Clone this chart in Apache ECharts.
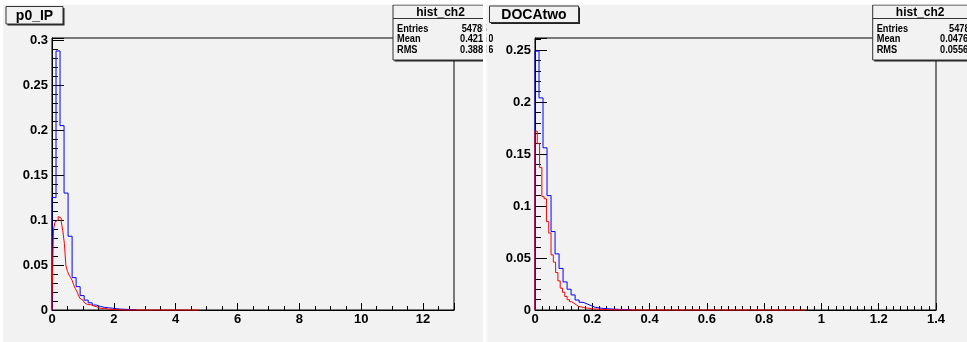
<!DOCTYPE html>
<html><head><meta charset="utf-8">
<script src="https://cdn.jsdelivr.net/npm/echarts@6/dist/echarts.min.js"></script>
<style>html,body{margin:0;padding:0;background:#fff}#c{width:967px;height:342px}</style>
</head><body><div id="c"></div>
<script>
// ---------- data ----------
const ipTitle = 'p0_IP';
const docaTitle = 'DOCAtwo';
const statTitle = 'hist_ch2';
const ipStats = [['Entries', '54785'], ['Mean', '0.42150'], ['RMS', '0.38806']];
const docaStats = [['Entries', '54785'], ['Mean', '0.04768'], ['RMS', '0.05567']];

// p0_IP histograms (bin start, bin width, contents)
const ipBlueStart = 0, ipBlueWidth = 0.13;
const ipBlue = [0.125, 0.288, 0.205, 0.130, 0.082, 0.036, 0.026, 0.016, 0.011, 0.008,
  0.0055, 0.004, 0.003, 0.0025, 0.002, 0.0015, 0.001, 0.0008, 0.0006, 0.0004, 0.0003];
const ipRedStart = 0, ipRedWidth = 0.05;
const ipRed = [0.013, 0.090, 0.098, 0.100, 0.104, 0.102, 0.098, 0.088, 0.074, 0.049,
  0.043, 0.039, 0.036, 0.033, 0.028, 0.024, 0.021, 0.017, 0.013, 0.011,
  0.009, 0.008, 0.006, 0.0055, 0.006, 0.004, 0.0045, 0.003, 0.0035, 0.0025,
  0.002, 0.0025, 0.0015, 0.0012, 0.0015, 0.001, 0.0008, 0.0006, 0.0008, 0.0005,
  0.0004, 0.0003, 0.0003, 0.0002, 0.0002, 0.0001, 0.0001, 0.0001, 0, 0.0001,
  0, 0, 0.0001, 0, 0, 0, 0, 0, 0, 0,
  0, 0, 0, 0, 0, 0, 0, 0, 0, 0,
  0, 0, 0, 0, 0, 0, 0, 0, 0, 0,
  0, 0, 0, 0, 0, 0, 0, 0, 0, 0,
  0, 0, 0, 0, 0];

// DOCAtwo histograms
const docaBlueStart = 0, docaBlueWidth = 0.014;
const docaBlue = [0.249, 0.204, 0.156, 0.110, 0.0755, 0.054, 0.040, 0.027, 0.020, 0.0145,
  0.0096, 0.0074, 0.0058, 0.0042, 0.0026, 0.002, 0.0015, 0.0012, 0.001, 0.0008,
  0.0006, 0.0005, 0.0004, 0.0003];
const docaRedStart = 0, docaRedWidth = 0.008;
const docaRed = [0.172, 0.160, 0.137, 0.109, 0.107, 0.085, 0.074, 0.053, 0.046, 0.036,
  0.028, 0.021, 0.017, 0.013, 0.010, 0.008, 0.0065, 0.005, 0.0035, 0.003,
  0.0025, 0.002, 0.0018, 0.0015, 0.0012, 0.001, 0.0009, 0.0008, 0.0006, 0.0005,
  0.0004, 0.0004, 0.0003, 0.0003, 0.0002, 0.0002, 0.0001, 0.0002, 0.0001, 0.0001,
  0, 0.0001, 0, 0, 0.0001, 0, 0, 0, 0, 0,
  0, 0, 0, 0, 0, 0, 0, 0, 0, 0,
  0, 0, 0, 0, 0, 0, 0, 0, 0, 0,
  0, 0, 0, 0, 0, 0, 0, 0, 0, 0,
  0, 0, 0, 0, 0, 0, 0, 0, 0, 0,
  0, 0, 0, 0, 0, 0, 0, 0, 0, 0,
  0, 0, 0, 0, 0, 0, 0, 0, 0, 0,
  0, 0, 0, 0, 0, 0, 0, 0];

// axes
const ipXMax = 13, ipXStep = 2, ipYMax = 0.3024, ipYStep = 0.05;
const docaXMax = 1.4, docaXStep = 0.2, docaYMax = 0.2616, docaYStep = 0.05;

// ---------- helpers ----------
function histPoints(start, width, vals) {
  const pts = [[start, 0]];
  vals.forEach((v, i) => {
    const a = +(start + i * width).toFixed(6), b = +(start + (i + 1) * width).toFixed(6);
    pts.push([a, v], [b, v]);
  });
  pts.push([+(start + vals.length * width).toFixed(6), 0]);
  return pts;
}
function tickFmt(step) {
  return v => {
    const k = v / step;
    if (Math.abs(k - Math.round(k)) > 1e-6) return '';
    return String(+(+v).toFixed(6));
  };
}
const REG = "'Liberation Sans',Arial,Helvetica,sans-serif";
const BG = '#f2f2f2';

function xAxisOpt(idx, max, step, minorSplit) {
  return {
    gridIndex: idx, type: 'value', min: 0, max: max, interval: step,
    axisLine: { show: true, onZero: false, lineStyle: { color: '#000', width: 1 } },
    axisTick: { show: true, inside: true, length: 7, lineStyle: { color: '#000', width: 1 } },
    minorTick: { show: true, splitNumber: minorSplit, length: 4, lineStyle: { color: '#000', width: 1 } },
    splitLine: { show: false }, minorSplitLine: { show: false },
    axisLabel: { margin: 3, color: '#000', fontFamily: REG, fontWeight: 'bold', fontSize: 13,
      formatter: tickFmt(step) }
  };
}
function yAxisOpt(idx, max, step) {
  return {
    gridIndex: idx, type: 'value', min: 0, max: max, interval: step,
    axisLine: { show: true, onZero: false, lineStyle: { color: '#000', width: 1 } },
    axisTick: { show: true, inside: true, length: 12, lineStyle: { color: '#000', width: 1 } },
    minorTick: { show: true, splitNumber: 5, length: 6, lineStyle: { color: '#000', width: 1 } },
    splitLine: { show: false }, minorSplitLine: { show: false },
    axisLabel: { margin: 4, color: '#000', fontFamily: REG, fontWeight: 'bold', fontSize: 13,
      formatter: tickFmt(step) }
  };
}
function lineSeries(xi, pts, color) {
  return {
    type: 'line', xAxisIndex: xi, yAxisIndex: xi, data: pts, showSymbol: false, symbol: 'none',
    clip: false, animation: false, lineStyle: { color: color, width: 1 }, z: 3
  };
}
function titleBox(x, y, w, h, text, fs) {
  return [
    { type: 'rect', z: 100, shape: { x: x + 1.5, y: y + 1.5, width: w, height: h }, style: { fill: '#222' } },
    { type: 'rect', z: 101, shape: { x: x, y: y, width: w, height: h }, style: { fill: BG, stroke: '#333', lineWidth: 1 } },
    { type: 'text', z: 102, style: { text: text, x: x + w / 2, y: y + h / 2 + 0.5, textAlign: 'center', textVerticalAlign: 'middle',
      font: 'bold ' + fs + 'px ' + REG, fill: '#000' } }
  ];
}
function narrowText(text, x, y) {
  return { type: 'text', z: 102, x: x, y: y, scaleX: 0.84, scaleY: 1,
    style: { text: text, x: 0, y: 0, textAlign: 'left', textVerticalAlign: 'middle',
      font: 'bold 11px ' + REG, fill: '#000' } };
}
function statBox(x, y, w, rows, valX) {
  const h = 55;
  const els = [
    { type: 'rect', z: 100, shape: { x: x + 1.5, y: y + 1.5, width: w, height: h }, style: { fill: '#222' } },
    { type: 'rect', z: 101, shape: { x: x, y: y, width: w, height: h }, style: { fill: BG, stroke: '#333', lineWidth: 1 } },
    { type: 'line', z: 102, shape: { x1: x, y1: y + 13.5, x2: x + w, y2: y + 13.5 }, style: { stroke: '#333', lineWidth: 1 } },
    { type: 'text', z: 102, style: { text: statTitle, x: x + 47.5, y: y + 7.5, textAlign: 'center', textVerticalAlign: 'middle',
      font: 'bold 12px ' + REG, fill: '#000' } }
  ];
  rows.forEach((r, i) => {
    const yy = y + 23.5 + i * 10.9;
    els.push(narrowText(r[0], x + 4, yy));
    els.push(narrowText(r[1], valX[i], yy));
  });
  return els;
}

const graphics = [].concat(
  titleBox(6, 6.5, 57, 17.5, ipTitle, 14),
  titleBox(489.5, 6, 89, 16.5, docaTitle, 14),
  statBox(393, 5, 91, ipStats, [461.7, 460, 460]),
  statBox(872.7, 5, 100, docaStats, [949, 940, 940]),
  [
    { type: 'rect', z: 150, shape: { x: 486.5, y: 4.5, width: 2.5, height: 60 }, style: { fill: BG } },
    { type: 'rect', z: 200, shape: { x: 0, y: 0, width: 967, height: 4.5 }, style: { fill: '#fff' } },
    { type: 'rect', z: 200, shape: { x: 0, y: 0, width: 3, height: 342 }, style: { fill: '#fff' } },
    { type: 'rect', z: 200, shape: { x: 483, y: 0, width: 3.5, height: 342 }, style: { fill: '#fff' } }
  ]
);

const chart = echarts.init(document.getElementById('c'), null, { renderer: 'canvas' });
chart.setOption({
  animation: false,
  backgroundColor: BG,
  grid: [
    { left: 52, right: 967 - 454, top: 38, bottom: 32, show: true, borderColor: '#000', borderWidth: 1, backgroundColor: 'transparent' },
    { left: 535, right: 967 - 936, top: 38, bottom: 32, show: true, borderColor: '#000', borderWidth: 1, backgroundColor: 'transparent' }
  ],
  xAxis: [xAxisOpt(0, ipXMax, ipXStep, 4), xAxisOpt(1, docaXMax, docaXStep, 8)],
  yAxis: [yAxisOpt(0, ipYMax, ipYStep), yAxisOpt(1, docaYMax, docaYStep)],
  series: [
    lineSeries(0, histPoints(ipBlueStart, ipBlueWidth, ipBlue), '#0000ff'),
    lineSeries(0, histPoints(ipRedStart, ipRedWidth, ipRed), '#ff0000'),
    lineSeries(1, histPoints(docaBlueStart, docaBlueWidth, docaBlue), '#0000ff'),
    lineSeries(1, histPoints(docaRedStart, docaRedWidth, docaRed), '#ff0000')
  ],
  graphic: graphics
});
</script></body></html>
